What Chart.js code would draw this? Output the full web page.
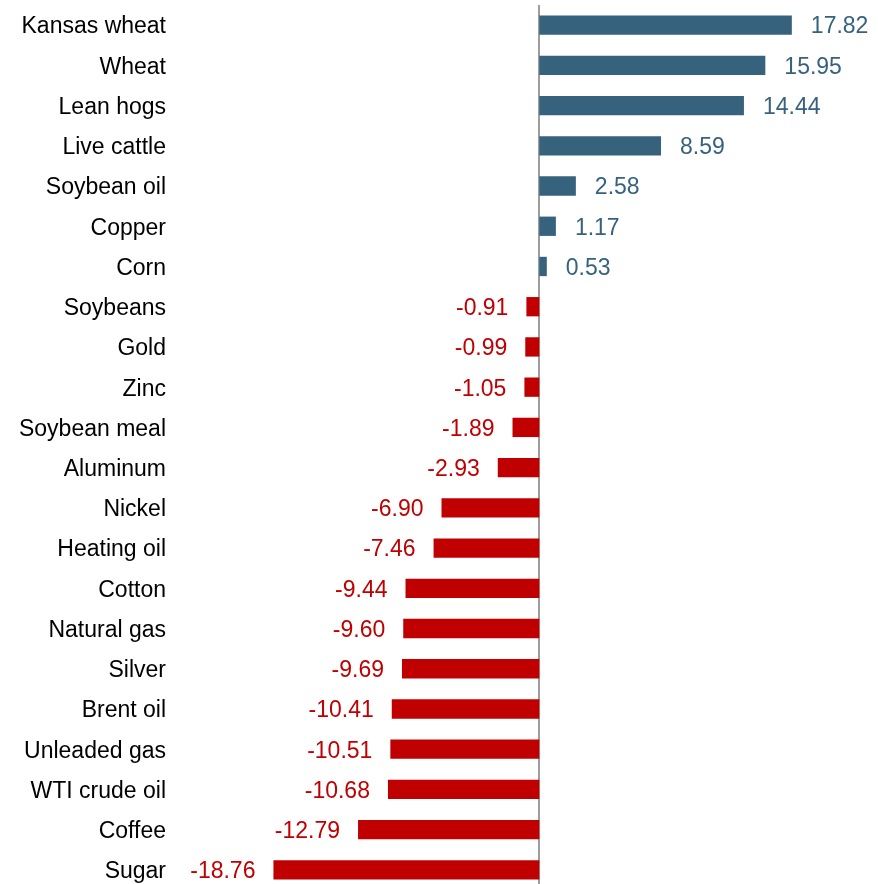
<!DOCTYPE html>
<html>
<head>
<meta charset="utf-8">
<script src="https://cdn.jsdelivr.net/npm/chart.js@4.4.1/dist/chart.umd.min.js"></script>
<style>
  html, body { margin: 0; padding: 0; background: #fff; overflow: hidden; }
  #wrap { width: 878px; height: 884px; overflow: hidden; position: relative; }
  canvas { display: block; }
</style>
</head>
<body>
<div id="wrap"><canvas id="c" width="878" height="890"></canvas></div>
<script>
const categories = ["Kansas wheat","Wheat","Lean hogs","Live cattle","Soybean oil","Copper","Corn","Soybeans","Gold","Zinc","Soybean meal","Aluminum","Nickel","Heating oil","Cotton","Natural gas","Silver","Brent oil","Unleaded gas","WTI crude oil","Coffee","Sugar"];
const values = [17.82,15.95,14.44,8.59,2.58,1.17,0.53,-0.91,-0.99,-1.05,-1.89,-2.93,-6.90,-7.46,-9.44,-9.60,-9.69,-10.41,-10.51,-10.68,-12.79,-18.76];

const BLUE = '#36627e';
const RED = '#c00000';
const FONT = '"Liberation Sans", Arial, Helvetica, sans-serif';

const zeroLine = {
  id: 'zeroLine',
  beforeDatasetsDraw(chart) {
    const ctx = chart.ctx;
    const x = Math.round(chart.scales.x.getPixelForValue(0));
    ctx.save();
    ctx.strokeStyle = '#9d9d9d';
    ctx.lineWidth = 2;
    ctx.beginPath();
    ctx.moveTo(x, chart.chartArea.top);
    ctx.lineTo(x, chart.height);
    ctx.stroke();
    ctx.restore();
  }
};

const valueLabels = {
  id: 'valueLabels',
  afterDatasetsDraw(chart) {
    const ctx = chart.ctx;
    const meta = chart.getDatasetMeta(0);
    ctx.save();
    ctx.font = '23px ' + FONT;
    ctx.textBaseline = 'middle';
    meta.data.forEach((el, i) => {
      const v = values[i];
      const txt = v.toFixed(2);
      if (v >= 0) {
        ctx.fillStyle = BLUE;
        ctx.textAlign = 'left';
        ctx.fillText(txt, el.x + 19, el.y + 2);
      } else {
        ctx.fillStyle = RED;
        ctx.textAlign = 'right';
        ctx.fillText(txt, el.x - 18, el.y + 2);
      }
    });
    ctx.restore();
  }
};

const chart = new Chart(document.getElementById('c'), {
  type: 'bar',
  data: {
    labels: categories,
    datasets: [{
      data: values,
      backgroundColor: values.map(v => v >= 0 ? BLUE : RED),
      borderWidth: 0,
      barPercentage: 0.48,
      categoryPercentage: 1.0
    }]
  },
  options: {
    indexAxis: 'y',
    responsive: false,
    animation: false,
    layout: { padding: { top: 5, bottom: 0, left: 0, right: 0 } },
    plugins: { legend: { display: false }, tooltip: { enabled: false } },
    scales: {
      x: {
        display: false,
        min: -25,
        max: 23.9
      },
      y: {
        ticks: {
          color: '#000',
          font: { family: FONT, size: 23 },
          padding: 19,
          labelOffset: 2,
          autoSkip: false
        },
        border: { display: false },
        grid: { display: false, drawTicks: false },
        afterFit: (s) => { s.width = 185; s.paddingTop = 0; s.paddingBottom = 0; }
      }
    }
  },
  plugins: [zeroLine, valueLabels]
});
</script>
</body>
</html>
